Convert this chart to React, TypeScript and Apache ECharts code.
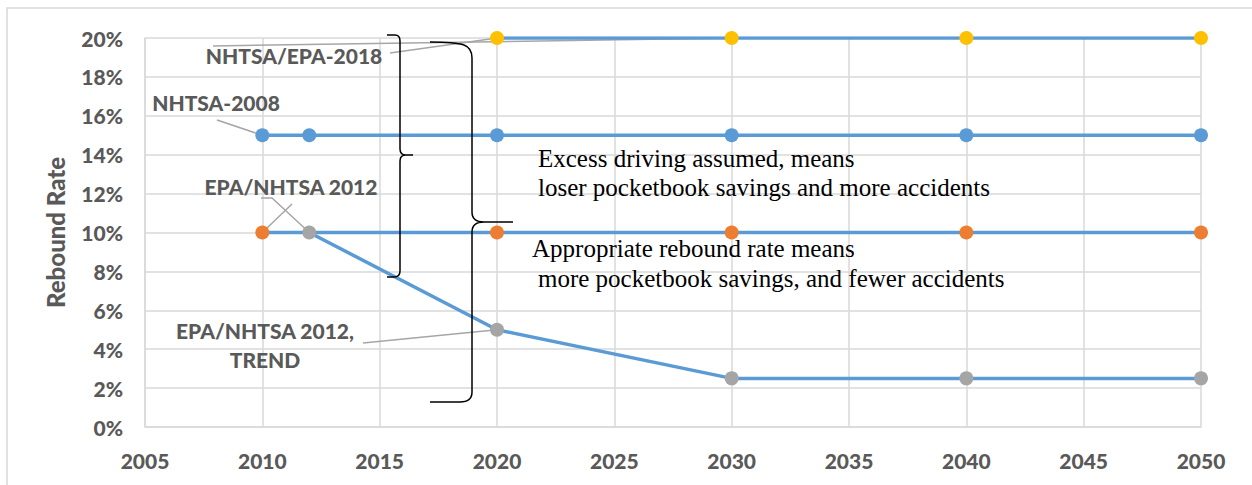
import React, { useEffect, useRef } from "react";
import * as echarts from "echarts";

// ---- data ----
const xTicks = [2005, 2010, 2015, 2020, 2025, 2030, 2035, 2040, 2045, 2050];
const yearsEpa2018 = [2020, 2030, 2040, 2050];
const valuesEpa2018 = [20, 20, 20, 20];
const yearsNhtsa2008 = [2010, 2012, 2020, 2030, 2040, 2050];
const valuesNhtsa2008 = [15, 15, 15, 15, 15, 15];
const yearsEpa2012 = [2010, 2020, 2030, 2040, 2050];
const valuesEpa2012 = [10, 10, 10, 10, 10];
const yearsTrend = [2012, 2020, 2030, 2040, 2050];
const valuesTrend = [10, 5, 2.5, 2.5, 2.5];

const LINE = "#5B9BD5";
const LEADER = "#A6A6A6";
const AXIS_TEXT = "#595959";
const SANS = "Lato, 'Noto Sans', sans-serif";
const SERIF = "'Liberation Serif', 'DejaVu Serif', serif";

const zip = (xs: number[], ys: number[]) => xs.map((x, i) => [x, ys[i]]);

const brace1 =
  "M387 35 L395 35 Q400 35 400 41 L400 149 Q400 155 406 155 L413 155 M406 155 Q400 155 400 161 L400 271 Q400 277 394 277 L387 277";
const brace2 =
  "M430 42 Q455 42 464 45 Q472 48 472 58 L472 212 Q472 222 484 222 L513 222 M484 222 Q472 222 472 232 L472 392 Q472 402 460 402 L430 402";

export default function App() {
  const ref = useRef<HTMLDivElement>(null);
  useEffect(() => {
    document.body.style.margin = "0";
    echarts.graphic.registerShape("brace1", echarts.graphic.extendPath(brace1, {}) as any);
    echarts.graphic.registerShape("brace2", echarts.graphic.extendPath(brace2, {}) as any);
    const chart = echarts.init(ref.current!, null, { renderer: "svg" });
    const mkSeries = (name: string, xs: number[], ys: number[], color: string) => ({
      name,
      type: "line",
      data: zip(xs, ys),
      symbol: "circle",
      symbolSize: 14,
      lineStyle: { color: LINE, width: 3.5 },
      itemStyle: { color },
      z: 3,
    });
    chart.setOption({
      animation: false,
      backgroundColor: "#ffffff",
      grid: { left: 145, right: 51, top: 38, bottom: 58 },
      xAxis: {
        type: "value",
        min: 2005,
        max: 2050,
        interval: 5,
        axisLine: { show: true, lineStyle: { color: "#D9D9D9", width: 1.5 } },
        axisTick: { show: false },
        splitLine: { show: true, lineStyle: { color: "#D9D9D9", width: 1.5 } },
        axisLabel: {
          margin: 23,
          color: AXIS_TEXT,
          fontFamily: SANS,
          fontWeight: 900,
          fontSize: 21,
          formatter: (v: number) => (xTicks.includes(v) ? String(v) : ""),
        },
      },
      yAxis: {
        type: "value",
        min: 0,
        max: 20,
        interval: 2,
        name: "Rebound Rate",
        nameLocation: "middle",
        nameGap: 78,
        nameRotate: 90,
        nameTextStyle: { color: AXIS_TEXT, fontFamily: SANS, fontWeight: 900, fontSize: 24 },
        axisLine: { show: true, lineStyle: { color: "#D9D9D9", width: 1.5 } },
        axisTick: { show: false },
        splitLine: { show: true, lineStyle: { color: "#D9D9D9", width: 1.5 } },
        axisLabel: {
          margin: 22,
          color: AXIS_TEXT,
          fontFamily: SANS,
          fontWeight: 900,
          fontSize: 21,
          formatter: "{value}%",
        },
      },
      series: [
        mkSeries("NHTSA-2008", yearsNhtsa2008, valuesNhtsa2008, "#5B9BD5"),
        mkSeries("EPA/NHTSA 2012", yearsEpa2012, valuesEpa2012, "#ED7D31"),
        mkSeries("EPA/NHTSA 2012, TREND", yearsTrend, valuesTrend, "#A5A5A5"),
        mkSeries("NHTSA/EPA-2018", yearsEpa2018, valuesEpa2018, "#FFC000"),
      ],
    });

    const px = (x: number, y: number) => chart.convertToPixel({ gridIndex: 0 }, [x, y]) as number[];
    const p2030 = px(yearsEpa2018[1], valuesEpa2018[1]);
    const p2020y = px(yearsEpa2018[0], valuesEpa2018[0]);
    const p2008 = px(yearsNhtsa2008[0], valuesNhtsa2008[0]);
    const pOrange = px(yearsEpa2012[0], valuesEpa2012[0]);
    const pGray0 = px(yearsTrend[0], valuesTrend[0]);
    const pGray1 = px(yearsTrend[1], valuesTrend[1]);

    const leader = (points: number[][]) => ({
      type: "polyline",
      shape: { points },
      style: { stroke: LEADER, lineWidth: 1.5, fill: "none" },
      z: 2,
    });
    const label = (text: string, x: number, y: number) => ({
      type: "text",
      x,
      y,
      style: {
        text,
        fill: AXIS_TEXT,
        font: `900 21px ${SANS}`,
        align: "center",
        verticalAlign: "middle",
        lineHeight: 29,
      },
      z: 10,
    });
    const note = (text: string, x: number, y: number) => ({
      type: "text",
      x,
      y,
      style: { text, fill: "#000000", font: `25px ${SERIF}`, align: "left", verticalAlign: "middle" },
      z: 10,
    });

    chart.setOption({
      graphic: [
        {
          type: "rect",
          shape: { x: 7, y: 8, width: 1300, height: 600 },
          style: { fill: "none", stroke: "#D9D9D9", lineWidth: 1.5 },
          silent: true,
        },
        leader([[213, 46], p2030]),
        leader([[390, 53], p2020y]),
        leader([[217, 120], p2008]),
        leader([pOrange, [292, 204]]),
        leader([[261, 198], [272, 198], pGray0]),
        leader([[363, 343], pGray1]),
        label("NHTSA/EPA-2018", 294, 55),
        label("NHTSA-2008", 216, 102),
        label("EPA/NHTSA 2012", 291, 186),
        label("EPA/NHTSA 2012,\nTREND", 265, 345),
        { type: "brace1", x: 0, y: 0, style: { stroke: "#000", lineWidth: 1.5, fill: "none" }, z: 5 },
        { type: "brace2", x: 0, y: 0, style: { stroke: "#000", lineWidth: 1.5, fill: "none" }, z: 5 },
        note("Excess driving assumed, means", 538, 158),
        note("loser pocketbook savings and more accidents", 538, 187),
        note("Appropriate rebound rate means", 532, 248),
        note("more pocketbook savings, and fewer accidents", 538, 278),
      ],
    });
    return () => chart.dispose();
  }, []);
  return <div ref={ref} style={{ position: "absolute", left: 0, top: 0, width: 1252, height: 485 }} />;
}
